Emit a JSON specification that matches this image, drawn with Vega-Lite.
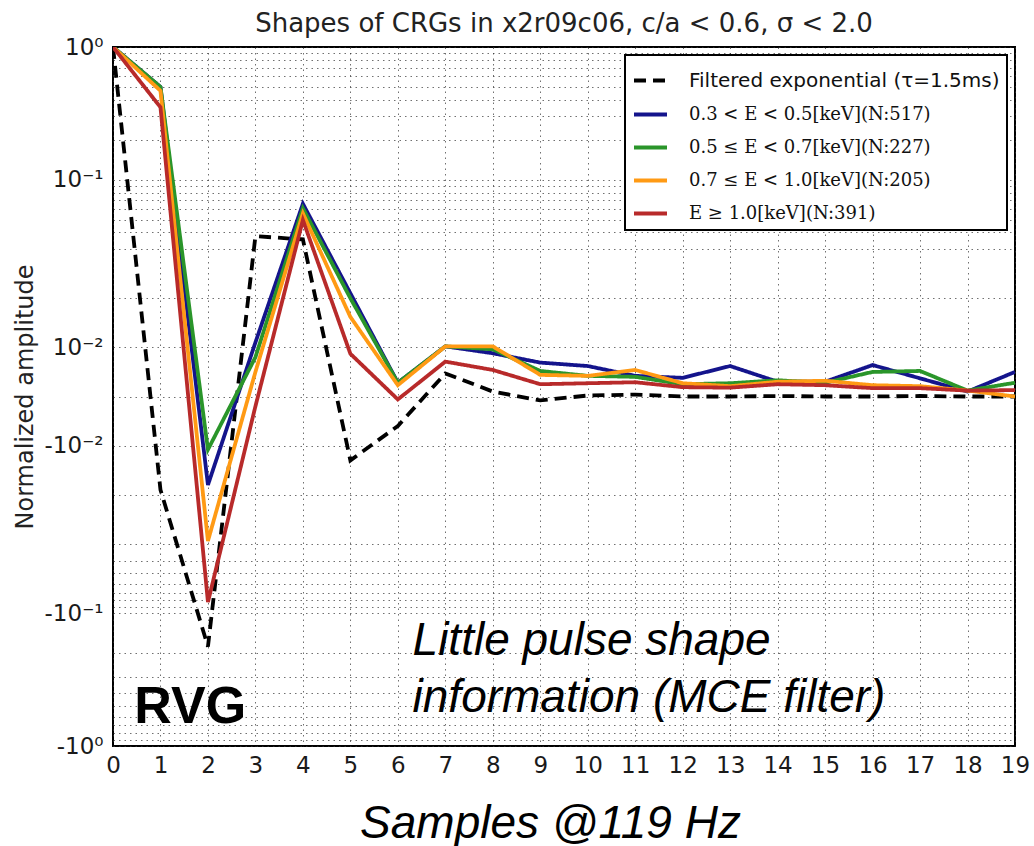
{
  "$schema": "https://vega.github.io/schema/vega-lite/v6.json",
  "width": 902,
  "height": 699,
  "autosize": {"type": "none"},
  "padding": {"left": 113, "top": 47, "right": 19, "bottom": 100},
  "background": "white",
  "title": {
    "text": "Shapes of CRGs in x2r09c06, c/a < 0.6, σ < 2.0",
    "font": "DejaVu Sans",
    "fontSize": 26,
    "fontWeight": "normal",
    "color": "#222222",
    "anchor": "middle",
    "baseline": "alphabetic",
    "frame": "group",
    "offset": -22
  },
  "config": {
    "font": "DejaVu Sans",
    "view": {"stroke": "black", "strokeWidth": 2},
    "legend": {"strokeWidth": 2},
    "axis": {
      "domain": false,
      "ticks": false,
      "grid": true,
      "tickCount": 500,
      "gridColor": "#333333",
      "gridDash": [1.5, 4],
      "gridWidth": 1,
      "gridOpacity": 0.7,
      "labelFont": "DejaVu Sans",
      "labelFontSize": 23,
      "labelColor": "#1a1a1a",
      "labelOverlap": false,
      "labelFlush": false,
      "labelBound": false
    }
  },
  "layer": [
    {
      "data": {
        "values": [
          {"series": "Filtered exponential (τ=1.5ms)", "sample": 0, "amplitude": 1.0},
          {"series": "Filtered exponential (τ=1.5ms)", "sample": 1, "amplitude": -0.019},
          {"series": "Filtered exponential (τ=1.5ms)", "sample": 2, "amplitude": -0.18},
          {"series": "Filtered exponential (τ=1.5ms)", "sample": 3, "amplitude": 0.0376},
          {"series": "Filtered exponential (τ=1.5ms)", "sample": 4, "amplitude": 0.0355},
          {"series": "Filtered exponential (τ=1.5ms)", "sample": 5, "amplitude": -0.013},
          {"series": "Filtered exponential (τ=1.5ms)", "sample": 6, "amplitude": -0.006},
          {"series": "Filtered exponential (τ=1.5ms)", "sample": 7, "amplitude": 0.0047},
          {"series": "Filtered exponential (τ=1.5ms)", "sample": 8, "amplitude": 0.001},
          {"series": "Filtered exponential (τ=1.5ms)", "sample": 9, "amplitude": -0.0008},
          {"series": "Filtered exponential (τ=1.5ms)", "sample": 10, "amplitude": 0.0002},
          {"series": "Filtered exponential (τ=1.5ms)", "sample": 11, "amplitude": 0.0004},
          {"series": "Filtered exponential (τ=1.5ms)", "sample": 12, "amplitude": 0.0},
          {"series": "Filtered exponential (τ=1.5ms)", "sample": 13, "amplitude": 0.0},
          {"series": "Filtered exponential (τ=1.5ms)", "sample": 14, "amplitude": 0.0001},
          {"series": "Filtered exponential (τ=1.5ms)", "sample": 15, "amplitude": 0.0},
          {"series": "Filtered exponential (τ=1.5ms)", "sample": 16, "amplitude": 0.0},
          {"series": "Filtered exponential (τ=1.5ms)", "sample": 17, "amplitude": 0.0001},
          {"series": "Filtered exponential (τ=1.5ms)", "sample": 18, "amplitude": 0.0},
          {"series": "Filtered exponential (τ=1.5ms)", "sample": 19, "amplitude": 0.0},

          {"series": "0.3 < E < 0.5[keV](N:517)", "sample": 0, "amplitude": 1.0},
          {"series": "0.3 < E < 0.5[keV](N:517)", "sample": 1, "amplitude": 0.5},
          {"series": "0.3 < E < 0.5[keV](N:517)", "sample": 2, "amplitude": -0.018},
          {"series": "0.3 < E < 0.5[keV](N:517)", "sample": 3, "amplitude": 0.011},
          {"series": "0.3 < E < 0.5[keV](N:517)", "sample": 4, "amplitude": 0.066},
          {"series": "0.3 < E < 0.5[keV](N:517)", "sample": 5, "amplitude": 0.021},
          {"series": "0.3 < E < 0.5[keV](N:517)", "sample": 6, "amplitude": 0.0028},
          {"series": "0.3 < E < 0.5[keV](N:517)", "sample": 7, "amplitude": 0.0102},
          {"series": "0.3 < E < 0.5[keV](N:517)", "sample": 8, "amplitude": 0.0088},
          {"series": "0.3 < E < 0.5[keV](N:517)", "sample": 9, "amplitude": 0.0069},
          {"series": "0.3 < E < 0.5[keV](N:517)", "sample": 10, "amplitude": 0.0062},
          {"series": "0.3 < E < 0.5[keV](N:517)", "sample": 11, "amplitude": 0.0042},
          {"series": "0.3 < E < 0.5[keV](N:517)", "sample": 12, "amplitude": 0.0038},
          {"series": "0.3 < E < 0.5[keV](N:517)", "sample": 13, "amplitude": 0.0062},
          {"series": "0.3 < E < 0.5[keV](N:517)", "sample": 14, "amplitude": 0.003},
          {"series": "0.3 < E < 0.5[keV](N:517)", "sample": 15, "amplitude": 0.003},
          {"series": "0.3 < E < 0.5[keV](N:517)", "sample": 16, "amplitude": 0.0064},
          {"series": "0.3 < E < 0.5[keV](N:517)", "sample": 17, "amplitude": 0.0037},
          {"series": "0.3 < E < 0.5[keV](N:517)", "sample": 18, "amplitude": 0.001},
          {"series": "0.3 < E < 0.5[keV](N:517)", "sample": 19, "amplitude": 0.005},

          {"series": "0.5 ≤ E < 0.7[keV](N:227)", "sample": 0, "amplitude": 1.0},
          {"series": "0.5 ≤ E < 0.7[keV](N:227)", "sample": 1, "amplitude": 0.5},
          {"series": "0.5 ≤ E < 0.7[keV](N:227)", "sample": 2, "amplitude": -0.0108},
          {"series": "0.5 ≤ E < 0.7[keV](N:227)", "sample": 3, "amplitude": 0.008},
          {"series": "0.5 ≤ E < 0.7[keV](N:227)", "sample": 4, "amplitude": 0.061},
          {"series": "0.5 ≤ E < 0.7[keV](N:227)", "sample": 5, "amplitude": 0.02},
          {"series": "0.5 ≤ E < 0.7[keV](N:227)", "sample": 6, "amplitude": 0.0028},
          {"series": "0.5 ≤ E < 0.7[keV](N:227)", "sample": 7, "amplitude": 0.0102},
          {"series": "0.5 ≤ E < 0.7[keV](N:227)", "sample": 8, "amplitude": 0.0096},
          {"series": "0.5 ≤ E < 0.7[keV](N:227)", "sample": 9, "amplitude": 0.0052},
          {"series": "0.5 ≤ E < 0.7[keV](N:227)", "sample": 10, "amplitude": 0.0042},
          {"series": "0.5 ≤ E < 0.7[keV](N:227)", "sample": 11, "amplitude": 0.004},
          {"series": "0.5 ≤ E < 0.7[keV](N:227)", "sample": 12, "amplitude": 0.0025},
          {"series": "0.5 ≤ E < 0.7[keV](N:227)", "sample": 13, "amplitude": 0.0027},
          {"series": "0.5 ≤ E < 0.7[keV](N:227)", "sample": 14, "amplitude": 0.0033},
          {"series": "0.5 ≤ E < 0.7[keV](N:227)", "sample": 15, "amplitude": 0.0028},
          {"series": "0.5 ≤ E < 0.7[keV](N:227)", "sample": 16, "amplitude": 0.005},
          {"series": "0.5 ≤ E < 0.7[keV](N:227)", "sample": 17, "amplitude": 0.0052},
          {"series": "0.5 ≤ E < 0.7[keV](N:227)", "sample": 18, "amplitude": 0.0012},
          {"series": "0.5 ≤ E < 0.7[keV](N:227)", "sample": 19, "amplitude": 0.0028},

          {"series": "0.7 ≤ E < 1.0[keV](N:205)", "sample": 0, "amplitude": 1.0},
          {"series": "0.7 ≤ E < 1.0[keV](N:205)", "sample": 1, "amplitude": 0.47},
          {"series": "0.7 ≤ E < 1.0[keV](N:205)", "sample": 2, "amplitude": -0.0294},
          {"series": "0.7 ≤ E < 1.0[keV](N:205)", "sample": 3, "amplitude": 0.005},
          {"series": "0.7 ≤ E < 1.0[keV](N:205)", "sample": 4, "amplitude": 0.056},
          {"series": "0.7 ≤ E < 1.0[keV](N:205)", "sample": 5, "amplitude": 0.0162},
          {"series": "0.7 ≤ E < 1.0[keV](N:205)", "sample": 6, "amplitude": 0.0023},
          {"series": "0.7 ≤ E < 1.0[keV](N:205)", "sample": 7, "amplitude": 0.0102},
          {"series": "0.7 ≤ E < 1.0[keV](N:205)", "sample": 8, "amplitude": 0.0102},
          {"series": "0.7 ≤ E < 1.0[keV](N:205)", "sample": 9, "amplitude": 0.0044},
          {"series": "0.7 ≤ E < 1.0[keV](N:205)", "sample": 10, "amplitude": 0.0042},
          {"series": "0.7 ≤ E < 1.0[keV](N:205)", "sample": 11, "amplitude": 0.0054},
          {"series": "0.7 ≤ E < 1.0[keV](N:205)", "sample": 12, "amplitude": 0.0027},
          {"series": "0.7 ≤ E < 1.0[keV](N:205)", "sample": 13, "amplitude": 0.0021},
          {"series": "0.7 ≤ E < 1.0[keV](N:205)", "sample": 14, "amplitude": 0.003},
          {"series": "0.7 ≤ E < 1.0[keV](N:205)", "sample": 15, "amplitude": 0.0032},
          {"series": "0.7 ≤ E < 1.0[keV](N:205)", "sample": 16, "amplitude": 0.0023},
          {"series": "0.7 ≤ E < 1.0[keV](N:205)", "sample": 17, "amplitude": 0.0021},
          {"series": "0.7 ≤ E < 1.0[keV](N:205)", "sample": 18, "amplitude": 0.0012},
          {"series": "0.7 ≤ E < 1.0[keV](N:205)", "sample": 19, "amplitude": 0.0},

          {"series": "E ≥ 1.0[keV](N:391)", "sample": 0, "amplitude": 1.0},
          {"series": "E ≥ 1.0[keV](N:391)", "sample": 1, "amplitude": 0.355},
          {"series": "E ≥ 1.0[keV](N:391)", "sample": 2, "amplitude": -0.0825},
          {"series": "E ≥ 1.0[keV](N:391)", "sample": 3, "amplitude": -0.002},
          {"series": "E ≥ 1.0[keV](N:391)", "sample": 4, "amplitude": 0.0497},
          {"series": "E ≥ 1.0[keV](N:391)", "sample": 5, "amplitude": 0.0087},
          {"series": "E ≥ 1.0[keV](N:391)", "sample": 6, "amplitude": -0.0006},
          {"series": "E ≥ 1.0[keV](N:391)", "sample": 7, "amplitude": 0.0071},
          {"series": "E ≥ 1.0[keV](N:391)", "sample": 8, "amplitude": 0.0054},
          {"series": "E ≥ 1.0[keV](N:391)", "sample": 9, "amplitude": 0.0025},
          {"series": "E ≥ 1.0[keV](N:391)", "sample": 10, "amplitude": 0.0027},
          {"series": "E ≥ 1.0[keV](N:391)", "sample": 11, "amplitude": 0.0029},
          {"series": "E ≥ 1.0[keV](N:391)", "sample": 12, "amplitude": 0.0019},
          {"series": "E ≥ 1.0[keV](N:391)", "sample": 13, "amplitude": 0.0018},
          {"series": "E ≥ 1.0[keV](N:391)", "sample": 14, "amplitude": 0.0025},
          {"series": "E ≥ 1.0[keV](N:391)", "sample": 15, "amplitude": 0.0023},
          {"series": "E ≥ 1.0[keV](N:391)", "sample": 16, "amplitude": 0.0017},
          {"series": "E ≥ 1.0[keV](N:391)", "sample": 17, "amplitude": 0.0017},
          {"series": "E ≥ 1.0[keV](N:391)", "sample": 18, "amplitude": 0.0012},
          {"series": "E ≥ 1.0[keV](N:391)", "sample": 19, "amplitude": 0.0013}
        ]
      },
      "mark": {"type": "line", "strokeWidth": 3.8, "clip": true},
      "encoding": {
        "x": {
          "field": "sample",
          "type": "quantitative",
          "scale": {"domain": [0, 19], "nice": false, "zero": false},
          "axis": {
            "values": [0, 1, 2, 3, 4, 5, 6, 7, 8, 9, 10, 11, 12, 13, 14, 15, 16, 17, 18, 19],
            "format": "d",
            "labelPadding": 8,
            "title": "Samples @119 Hz",
            "titleFont": "Liberation Sans",
            "titleFontStyle": "italic",
            "titleFontWeight": "normal",
            "titleFontSize": 46,
            "titleColor": "black",
            "titleBaseline": "alphabetic",
            "titleAlign": "center",
            "titleX": 437,
            "titlePadding": 60
          }
        },
        "y": {
          "field": "amplitude",
          "type": "quantitative",
          "scale": {
            "type": "linear",
            "zero": false,
            "nice": false,
            "domain": [-1, -0.9, -0.8, -0.7, -0.6, -0.5, -0.4, -0.3, -0.2, -0.15, -0.1, -0.09, -0.08, -0.07, -0.06, -0.05, -0.04, -0.035, -0.03, 0.03, 0.035, 0.04, 0.05, 0.06, 0.07, 0.08, 0.09, 0.1, 0.15, 0.2, 0.3, 0.4, 0.5, 0.6, 0.7, 0.8, 0.9, 1],
            "range": [699, 692.93, 686.14, 678.45, 669.56, 659.06, 646.2, 629.62, 606.25, 589.68, 566.31, 560.24, 553.45, 545.76, 536.87, 526.37, 513.51, 505.81, 496.93, 202.07, 193.19, 185.49, 172.63, 162.13, 153.24, 145.55, 138.76, 132.69, 109.32, 92.75, 69.38, 52.8, 39.94, 29.44, 20.55, 12.86, 6.07, 0]
          },
          "axis": {
            "values": [-1, -0.9, -0.8, -0.7, -0.6, -0.5, -0.4, -0.3, -0.2, -0.1, -0.09, -0.08, -0.07, -0.06, -0.05, -0.04, -0.03, -0.02, -0.01, 0, 0.01, 0.02, 0.03, 0.04, 0.05, 0.06, 0.07, 0.08, 0.09, 0.1, 0.2, 0.3, 0.4, 0.5, 0.6, 0.7, 0.8, 0.9, 1],
            "labelExpr": "datum.value == 1 ? '10⁰' : datum.value == 0.1 ? '10⁻¹' : datum.value == 0.01 ? '10⁻²' : datum.value == -0.01 ? '-10⁻²' : datum.value == -0.1 ? '-10⁻¹' : datum.value == -1 ? '-10⁰' : ''",
            "labelPadding": 10,
            "labelBaseline": "middle",
            "title": "Normalized amplitude",
            "titleFont": "DejaVu Sans",
            "titleFontSize": 24,
            "titleFontWeight": "normal",
            "titleColor": "#222222",
            "titlePadding": 7
          }
        },
        "color": {
          "field": "series",
          "type": "nominal",
          "scale": {
            "domain": ["Filtered exponential (τ=1.5ms)", "0.3 < E < 0.5[keV](N:517)", "0.5 ≤ E < 0.7[keV](N:227)", "0.7 ≤ E < 1.0[keV](N:205)", "E ≥ 1.0[keV](N:391)"],
            "range": ["#000000", "#14148c", "#2a952a", "#ff9a14", "#b82a2a"]
          },
          "legend": {
            "title": null,
            "orient": "top-right",
            "offset": 8,
            "padding": 7,
            "rowPadding": 5,
            "strokeColor": "black",
            "fillColor": "white",
            "cornerRadius": 0,
            "symbolType": "stroke",
            "symbolSize": 1089,
            "symbolStrokeWidth": 4,
            "labelFontSize": {"expr": "datum.value == 'Filtered exponential (τ=1.5ms)' ? 20 : 18"},
            "labelColor": "#111111",
            "labelFont": {"expr": "datum.value == 'Filtered exponential (τ=1.5ms)' ? 'DejaVu Sans' : 'DejaVu Serif'"},
            "labelOffset": 20,
            "labelLimit": 400
          }
        },
        "strokeDash": {
          "field": "series",
          "type": "nominal",
          "scale": {
            "domain": ["Filtered exponential (τ=1.5ms)", "0.3 < E < 0.5[keV](N:517)", "0.5 ≤ E < 0.7[keV](N:227)", "0.7 ≤ E < 1.0[keV](N:205)", "E ≥ 1.0[keV](N:391)"],
            "range": [[12, 7], [1, 0], [1, 0], [1, 0], [1, 0]]
          },
          "legend": {
            "title": null,
            "orient": "top-right",
            "offset": 8,
            "padding": 7,
            "rowPadding": 5,
            "strokeColor": "black",
            "fillColor": "white",
            "cornerRadius": 0,
            "symbolType": "stroke",
            "symbolSize": 1089,
            "symbolStrokeWidth": 4,
            "labelFontSize": {"expr": "datum.value == 'Filtered exponential (τ=1.5ms)' ? 20 : 18"},
            "labelColor": "#111111",
            "labelFont": {"expr": "datum.value == 'Filtered exponential (τ=1.5ms)' ? 'DejaVu Sans' : 'DejaVu Serif'"},
            "labelOffset": 20,
            "labelLimit": 400
          }
        }
      }
    },
    {
      "data": {"values": [{"note": "RVG"}]},
      "mark": {"type": "text", "font": "Liberation Sans", "fontWeight": "bold", "fontSize": 52, "align": "left", "baseline": "alphabetic", "color": "black"},
      "encoding": {
        "x": {"datum": 0.45, "type": "quantitative"},
        "y": {"datum": -0.67, "type": "quantitative"},
        "text": {"field": "note", "type": "nominal"}
      }
    },
    {
      "data": {"values": [{"note": "Little pulse shape\ninformation (MCE filter)"}]},
      "mark": {"type": "text", "font": "Liberation Sans", "fontStyle": "italic", "fontSize": 46, "align": "left", "baseline": "alphabetic", "lineBreak": "\n", "lineHeight": 57, "color": "black"},
      "encoding": {
        "x": {"datum": 6.31, "type": "quantitative"},
        "y": {"datum": -0.207, "type": "quantitative"},
        "text": {"field": "note", "type": "nominal"}
      }
    }
  ]
}
